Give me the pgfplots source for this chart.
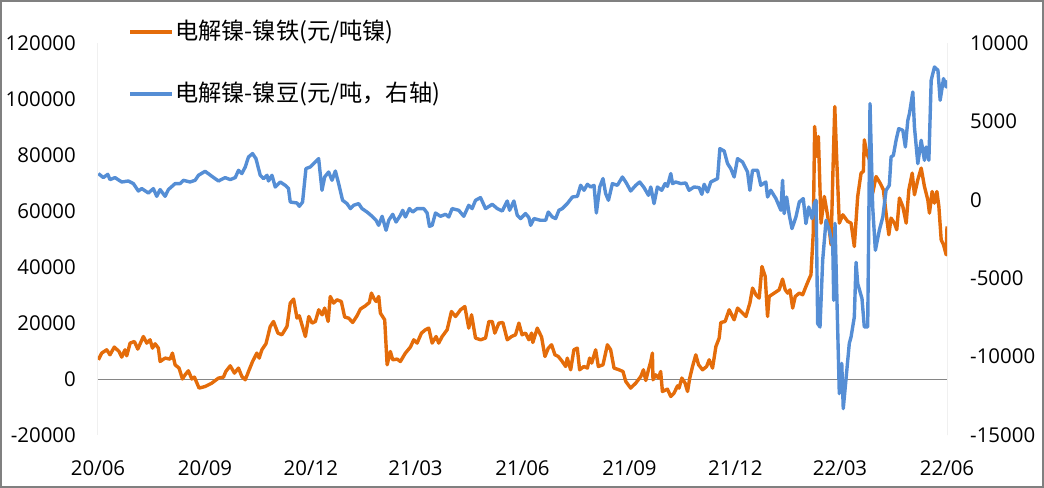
\documentclass[border=0pt]{standalone}
\usepackage{fontspec}
\setmainfont{Open Sans}
\newfontfamily\cjk{Noto Sans CJK SC}
\usepackage{pgfplots}
\pgfplotsset{compat=1.18}
\definecolor{orangec}{RGB}{228,108,10}
\definecolor{bluec}{RGB}{85,142,213}
\definecolor{axgray}{RGB}{134,134,134}
\definecolor{framegray}{RGB}{128,128,128}

\pgfplotstableread{
d v
0.3 6857
3.2 9250
7.5 10429
10.3 8643
14 11393
18.1 9821
20.4 7821
23.2 10429
24.7 8286
27.6 12821
31.3 13393
34.2 10679
39 15179
41.9 12821
44.8 14000
46.8 11036
49.1 12571
51.9 11036
53.4 6250
57.7 7464
62 7107
64 9250
66.3 5071
69.7 3893
72.6 0
74.9 1500
77.7 2929
80.7 0
82.9 679
86.9 -3250
92.1 -2679
97.9 -1464
103.6 321
107.9 679
109.9 2679
113.7 4714
117.3 2107
120.8 3893
123.7 893
126.6 -286
130 3286
132.9 6250
136.6 9250
138.6 7464
140.9 10429
144.4 12571
148.1 18750
150.9 20536
154.7 16393
158.1 15786
162.5 18750
165.3 27107
168.2 28536
171.1 21750
173.1 22571
178.3 15179
181.2 22321
184.1 19964
186.9 20536
189.8 24714
192.7 22929
194.9 25321
197.9 20536
199.7 29464
202.6 27107
205.5 28286
209.2 27679
212.1 22107
215.5 21750
219 20179
222.7 22571
225.6 24964
229.9 26143
233.3 27321
235.1 30679
237.1 28893
239.1 27679
241.4 29464
242.8 23536
246.5 21143
248.6 5071
251.4 9821
253.4 6857
257.2 7107
260 6250
264.3 9250
268.6 11393
271.5 14000
274.4 12821
278.1 16393
281.5 17571
284.4 18179
287.3 12821
290.7 15179
293 12821
295.9 15179
300.2 17571
303.9 24107
307.4 22321
311.7 24714
315.4 25893
318.8 18179
321.2 22929
324.6 14607
328.9 14000
333.2 14607
336.1 20536
339 20536
341.2 16393
344.7 19964
348.1 20179
351.9 14000
355.6 15179
359 15786
361.9 19964
364.6 15786
367.6 16393
370.5 14000
372.8 16393
373.9 13036
377.7 18179
381.4 14964
384.3 8036
387.2 11036
390 12214
392.9 8643
395.8 8036
399.2 6250
402.1 4464
403.5 7464
406.4 3286
409.2 10429
412.1 11036
414.1 3286
417.8 4464
420.8 3893
422.7 7464
424.5 5679
427.9 10429
430.2 4464
434.2 5071
438 12214
440.8 10429
443.7 3893
448 3286
451.4 2679
453.8 -893
458 -3250
462.4 -1464
466.7 893
469 3286
471 -536
473.3 3286
475.3 6250
476.7 9250
477.2 -286
479.5 1500
481.9 321
483.8 2679
485.3 -4464
489.6 -3607
492.5 -6250
495.3 -5036
498.3 -2429
499.6 -3250
502 321
504.8 -1464
506.9 -4464
508.8 321
511.2 4464
514 8643
516.4 5071
519.8 3286
523.3 4464
525.5 6857
528.4 3893
531.3 11607
534.1 14607
535.5 20179
539.2 20536
542.7 24714
547 21143
549.9 25321
554.2 23536
557.1 22321
560.5 27107
562.8 32464
565.7 30071
568.5 28893
570.9 40179
573.7 36607
575.7 22321
577.1 29464
581.4 30679
585.7 31857
588.6 35679
590.9 31857
593 30679
595 31857
597.3 25321
599.5 29464
603 30679
605.9 30071
608.7 33036
611.1 35429
613 37214
615 52107
616.2 90179
618 79464
619.4 86607
621.7 55679
624.5 65179
627.5 58036
630.3 47929
631.8 72321
633.5 97321
635.2 78286
637.4 55679
640.4 58643
644.7 56250
647.5 55679
650.3 47321
653.2 65179
656.1 73536
658.1 74107
658.9 85429
661 80679
663.3 78286
666.1 66393
669 72321
672.5 69964
675.3 67571
677.6 59250
680 51500
681.9 57464
684.8 55679
686.8 53286
689.1 64607
692 61607
694.9 55679
697.2 67571
700.1 73536
702 65786
704.9 71143
707.8 75321
710.6 68750
713.5 64000
714.9 59250
717.2 66964
719.2 62821
721.3 66964
723 61607
725 49714
727 47929
729.3 44357
730 54464
}\ferro

\pgfplotstableread{
d v
0.3 1671
4.6 1416
8.4 1626
10.3 1288
14.6 1416
20.4 1135
26.1 1199
30.4 1033
34.7 561
37.6 714
43.3 434
47.6 714
50.5 223
53.4 651
57.7 223
60.5 651
66.3 1033
70.6 1033
73.4 1244
79.2 1135
83.5 1244
86.4 1563
92.1 1818
97.9 1499
103.6 1199
109.3 1416
113.7 1288
118 1416
120.8 1882
123.7 1671
126.6 2092
129.4 2730
132.9 2947
135.8 2628
139.5 1563
142.3 1352
145.3 1563
146.6 1199
149.6 1563
152.4 816
156.7 1135
161 925
163.8 714
165.3 -140
171.1 -204
173.1 -415
175.9 -140
178.8 1990
182.5 2092
185.4 2309
189.7 2628
192.6 606
194.9 1454
198.3 1773
201.2 1244
204.1 1837
206.9 1033
210.3 -32
214.1 -242
217 -561
219.8 -351
224.1 -242
227 -561
231.3 -778
235.7 -1052
239.1 -1307
241.3 -1626
244.3 -1052
247.7 -1945
250 -1307
253.4 -925
256.3 -1416
260 -989
262 -670
264.3 -1097
267.8 -561
270.6 -778
274.4 -561
280.1 -561
283 -842
285 -1690
287.3 -1626
290.2 -842
294.5 -1052
298.8 -925
301.6 -1097
304.5 -561
310.2 -670
314.5 -1052
318.8 -351
321.7 -561
324.6 -32
328.9 140
333.2 -561
339 -287
343.3 -561
347.6 -714
351.9 -77
353.9 -670
357.6 -77
360.5 -989
363.3 -1199
367.6 -880
370.5 -1135
372 -1626
374.8 -1199
380.6 -1307
384.9 -1307
387.2 -778
390.6 -1097
393.5 -1199
396.3 -670
399.2 -561
403.5 -242
407.9 179
412.2 223
415 925
417.9 606
420.8 989
423.6 816
426.5 925
428.5 -842
431.4 816
434.2 1352
436.5 395
438.9 -32
442.3 1033
446.6 925
450.9 1454
454.3 1072
458 561
462.4 925
465.8 1135
469.5 778
473.3 287
475.3 816
478.1 -242
481 816
484.7 606
487.6 1033
489.6 861
492.5 1671
494 1033
496.8 1135
501.1 1033
505.4 1072
508.2 606
512.5 816
516.9 778
519.2 351
521.2 989
524.1 497
526.9 1135
529.8 1244
532.7 1352
534.7 3266
538.4 3112
541.3 2309
544.1 1990
547 1454
549.9 2628
554.2 2411
558.5 1773
560.5 606
562.8 1882
567.1 1882
569.9 925
574.2 1135
575.7 179
578.5 606
582.9 77
587.2 -670
588.6 1244
590 -880
592.1 179
594.4 -989
596.7 -1837
600.1 -1097
603 -140
606.4 77
608.7 -1518
611.1 -459
613.9 -1199
615.9 -242
617.4 -32
618.8 -7896
620.8 -8113
623.1 -3859
626 -1307
628.8 -1945
631.8 -3010
632.6 -6410
633.7 -1499
637.4 -12361
639.5 -10428
640.8 -13317
646 -9152
647.5 -8751
650.3 -7475
651.8 -3986
653.2 -5345
656.9 -6302
658.9 -8113
661.8 -8113
663.8 6136
666.1 -459
668.4 -3221
671.8 -1945
674.8 -1097
677.6 606
680.4 925
681.9 2730
683.9 2838
686.2 3795
688.5 4541
692 4433
694.2 3368
696.3 5070
697.7 5498
700.6 6876
702 4643
704.9 2309
707.8 3795
710.6 2519
712.1 3368
714.4 2519
716.4 7622
719.2 8470
722.2 8260
724.1 6346
727 7730
729.3 7194
730 7622
}\beans

\begin{document}
\begin{tikzpicture}
\path[use as bounding box] (-98bp,-53bp) rectangle (946bp,435bp);
\begin{axis}[
  at={(0bp,0bp)}, anchor=south west,
  scale only axis, width=849bp, height=392bp,
  xmin=0, xmax=730, ymin=-20000, ymax=120000,
  axis line style={draw=none},
  major tick length=0pt,
  scaled y ticks=false, scaled x ticks=false,
  xtick={0,92,183,273,365,457,548,638,730},
  xticklabels={20/06,20/09,20/12,21/03,21/06,21/09,21/12,22/03,22/06},
  ytick={-20000,0,20000,40000,60000,80000,100000,120000},
  yticklabels={-20000,0,20000,40000,60000,80000,100000,120000},
  tick label style={font=\fontsize{20.5}{24}\selectfont, text=black},
  yticklabel style={anchor=east, inner sep=0pt, xshift=-22bp},
  xticklabel style={anchor=base, inner sep=0pt, yshift=-40.3bp},
]
\draw[axgray, line width=1bp] (axis cs:0,0) -- (axis cs:730,0);
\draw[axgray, line width=1bp] (rel axis cs:0,0) -- (rel axis cs:0,1);
\draw[axgray, line width=1bp] (rel axis cs:1,0) -- (rel axis cs:1,1);
\addplot[orangec, line width=3.4bp, line join=round, no markers] table[x=d, y=v] {\ferro};
\end{axis}
\begin{axis}[
  at={(0bp,0bp)}, anchor=south west,
  scale only axis, width=849bp, height=392bp,
  xmin=0, xmax=730, ymin=-15000, ymax=10000,
  axis line style={draw=none},
  major tick length=0pt,
  scaled y ticks=false, scaled x ticks=false,
  xtick=\empty,
  ytick={-15000,-10000,-5000,0,5000,10000},
  yticklabels={-15000,-10000,-5000,0,5000,10000},
  yticklabel pos=right,
  tick label style={font=\fontsize{20.5}{24}\selectfont, text=black},
  yticklabel style={anchor=west, inner sep=0pt, xshift=23bp},
]
\addplot[bluec, line width=3.4bp, line join=round, no markers] table[x=d, y=v] {\beans};
\end{axis}
\draw[orangec, line width=3.4bp] (32bp,403bp) -- (74bp,403bp);
\node[anchor=west, inner sep=0pt, font=\cjk\fontsize{23.3}{27}\selectfont] at (77bp,403bp) {电解镍-镍铁(元/吨镍)};
\draw[bluec, line width=3.4bp] (32bp,341bp) -- (74bp,341bp);
\node[anchor=west, inner sep=0pt, font=\cjk\fontsize{23.3}{27}\selectfont] at (77bp,341bp) {电解镍-镍豆(元/吨，右轴)};
\draw[framegray, line width=2bp] (-97bp,-52bp) rectangle (945bp,434bp);
\end{tikzpicture}
\end{document}
